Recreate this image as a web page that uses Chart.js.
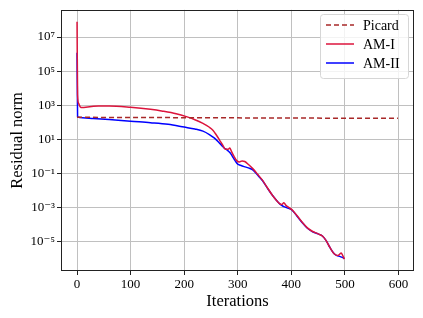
<!DOCTYPE html>
<html>
<head>
<meta charset="utf-8">
<script src="https://cdn.jsdelivr.net/npm/chart.js@4.4.1/dist/chart.umd.min.js"></script>
<style>
  html, body { margin: 0; padding: 0; background: #fff; }
  #wrap { width: 423px; height: 318px; }
</style>
</head>
<body>
<div id="wrap"><canvas id="c" width="423" height="318"></canvas></div>
<script>
// ---- data ----
const seriesNames = ["Picard", "AM-I", "AM-II"];

const picardIters = [0, 100, 200, 300, 400, 500, 599];
const picardValues = [195, 190, 186, 181, 177, 173, 170];

const am1Iters = [0,1,3,6,10,20,40,60,100,137,160,185,204,220,235,247,254,260,266,272,277,282,285,288,293,298,303,308,313,320,328,337,346,355,365,377,382,386,390,395,401,410,420,430,439,450,458,465,472,480,487,490,493,496,499];
const am1Values = [8.0e7,4.0e3,1.26e3,794,724,794,891,912,759,575,447,316,214,141,85,51,33,17.8,9.0,4.5,2.6,2.6,3.1,2.0,1.0,0.56,0.47,0.54,0.50,0.33,0.19,0.089,0.040,0.0148,5.0e-3,1.8e-3,1.5e-3,1.86e-3,1.32e-3,1.0e-3,7.4e-4,3.5e-4,1.4e-4,6.3e-5,4.0e-5,2.8e-5,2.1e-5,1.12e-5,4.5e-6,1.9e-6,1.5e-6,1.78e-6,2.1e-6,1.5e-6,9.3e-7];

const am2Iters = [0,1,10,30,60,100,137,170,200,220,235,247,256,264,270,275,279,282,286,290,295,300,305,312,320,328,337,346,355,365,377,382,386,392,401,410,420,430,439,450,458,465,472,480,485,490,495,499];
const am2Values = [1.2e6,209,186,166,145,115,95,76,52,40,30,19,12,7.0,4.4,3.0,2.5,2.1,1.58,1.0,0.56,0.35,0.30,0.25,0.21,0.16,0.079,0.038,0.0141,5.0e-3,1.78e-3,1.32e-3,1.12e-3,9.5e-4,7.1e-4,3.3e-4,1.32e-4,6.0e-5,3.8e-5,2.8e-5,2.1e-5,1.12e-5,4.5e-6,1.9e-6,1.48e-6,1.35e-6,1.17e-6,1.0e-6];

const xTicks = [0, 100, 200, 300, 400, 500, 600];
const yTickExponents = [-5, -3, -1, 1, 3, 5, 7];
const yTickLabels = ["10⁻⁵", "10⁻³", "10⁻¹", "10¹", "10³", "10⁵", "10⁷"];

const xLabel = "Iterations";
const yLabel = "Residual norm";

// ---- build ----
function pts(xs, ys) { return xs.map((x, i) => ({ x: x, y: ys[i] })); }

const colors = ["#a82828", "#dc143c", "#0000ff"];
const SERIF = "'Liberation Serif', 'DejaVu Serif', serif";

const legendPlugin = {
  id: 'mplLegend',
  afterDraw(chart) {
    const ctx = chart.ctx;
    const a = chart.chartArea;
    // frame
    ctx.save();
    ctx.strokeStyle = '#222';
    ctx.lineWidth = 1;
    ctx.strokeRect(Math.round(a.left) + 0.5, Math.round(a.top) + 0.5, Math.round(a.right - a.left) - 1, Math.round(a.bottom - a.top) - 1);
    // legend box
    const bx = 320.5, by = 14.5, bw = 88, bh = 64, r = 3;
    ctx.fillStyle = 'rgba(255,255,255,0.8)';
    ctx.strokeStyle = '#d6d6d6';
    ctx.lineWidth = 1;
    ctx.beginPath();
    ctx.moveTo(bx + r, by);
    ctx.lineTo(bx + bw - r, by);
    ctx.quadraticCurveTo(bx + bw, by, bx + bw, by + r);
    ctx.lineTo(bx + bw, by + bh - r);
    ctx.quadraticCurveTo(bx + bw, by + bh, bx + bw - r, by + bh);
    ctx.lineTo(bx + r, by + bh);
    ctx.quadraticCurveTo(bx, by + bh, bx, by + bh - r);
    ctx.lineTo(bx, by + r);
    ctx.quadraticCurveTo(bx, by, bx + r, by);
    ctx.closePath();
    ctx.fill();
    ctx.stroke();
    const rows = [25, 44, 63];
    chart.data.datasets.forEach((ds, i) => {
      const y = rows[i];
      ctx.strokeStyle = ds.borderColor;
      ctx.lineWidth = ds.borderWidth;
      ctx.setLineDash(ds.borderDash || []);
      ctx.beginPath();
      ctx.moveTo(326, y);
      ctx.lineTo(354, y);
      ctx.stroke();
      ctx.setLineDash([]);
      ctx.fillStyle = '#000';
      ctx.font = "14px " + SERIF;
      ctx.textBaseline = 'middle';
      ctx.textAlign = 'left';
      ctx.fillText(ds.label, 363, y + 1);
    });
    ctx.restore();
  }
};

const chart = new Chart(document.getElementById('c'), {
  type: 'line',
  data: {
    datasets: [
      { label: seriesNames[0], data: pts(picardIters, picardValues), borderColor: colors[0], borderWidth: 1.5, borderDash: [5, 3], pointRadius: 0, fill: false, tension: 0 },
      { label: seriesNames[1], data: pts(am1Iters, am1Values), borderColor: colors[1], borderWidth: 1.5, pointRadius: 0, fill: false, cubicInterpolationMode: 'monotone' },
      { label: seriesNames[2], data: pts(am2Iters, am2Values), borderColor: colors[2], borderWidth: 1.5, pointRadius: 0, fill: false, cubicInterpolationMode: 'monotone' }
    ]
  },
  options: {
    responsive: false,
    animation: false,
    devicePixelRatio: 1,
    layout: { padding: { top: 8, right: 9, left: 0, bottom: 0 } },
    plugins: { legend: { display: false }, tooltip: { enabled: false } },
    scales: {
      x: {
        type: 'linear',
        min: -29.95,
        max: 628.95,
        afterBuildTicks: (s) => { s.ticks = xTicks.map(v => ({ value: v })); },
        afterFit: (s) => { s.height = 47; },
        grid: { color: '#c0c0c0', lineWidth: 1, tickLength: 4, tickColor: '#222', drawTicks: true },
        border: { display: false },
        ticks: { color: '#000', font: { family: SERIF, size: 13 }, padding: 2, maxRotation: 0, callback: (v) => String(v) },
        title: { display: true, text: xLabel, color: '#000', font: { family: SERIF, size: 16.5 }, padding: { top: 0, bottom: 6 } }
      },
      y: {
        type: 'logarithmic',
        min: Math.pow(10, -6.73),
        max: Math.pow(10, 8.6),
        afterBuildTicks: (s) => { s.ticks = yTickExponents.map(e => ({ value: Math.pow(10, e) })); },
        afterFit: (s) => { s.width = 61; },
        grid: { color: '#c0c0c0', lineWidth: 1, tickLength: 4, tickColor: '#222', drawTicks: true },
        border: { display: false },
        ticks: {
          color: '#000', font: { family: SERIF, size: 13 }, padding: 2,
          callback: function (v) {
            const e = Math.round(Math.log10(v));
            const k = yTickExponents.indexOf(e);
            return k >= 0 ? yTickLabels[k] : '';
          }
        },
        title: { display: true, text: yLabel, color: '#000', font: { family: SERIF, size: 16.5 }, padding: { top: 8, bottom: 0 } }
      }
    }
  },
  plugins: [legendPlugin]
});
</script>
</body>
</html>
